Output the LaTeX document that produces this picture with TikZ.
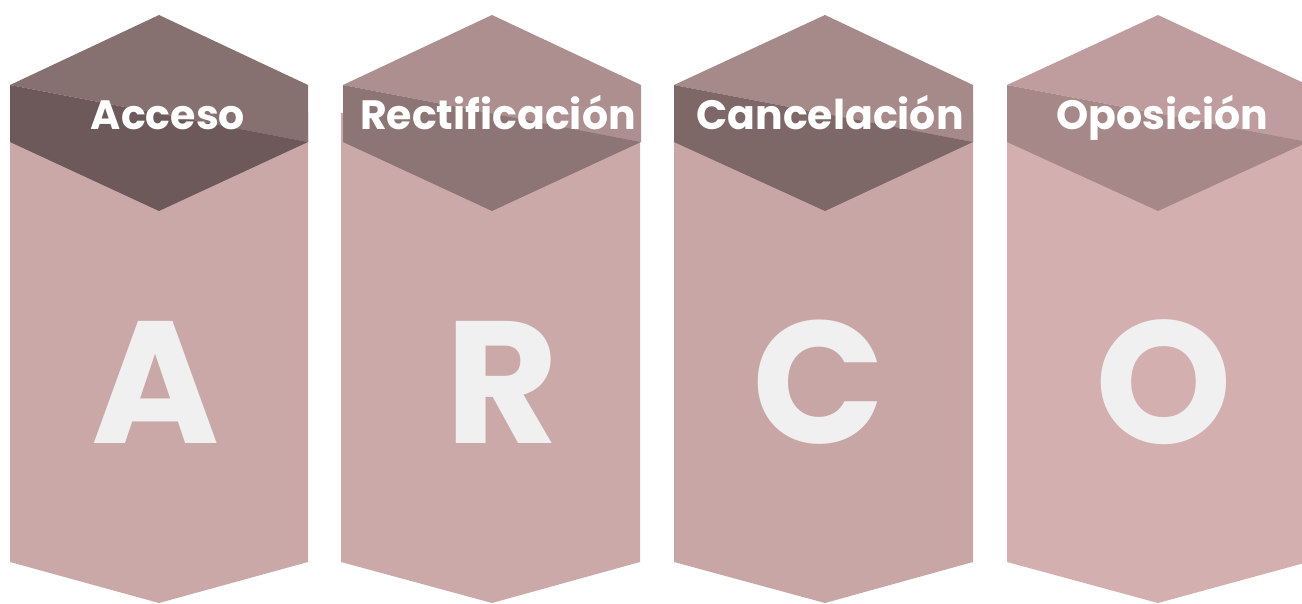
\documentclass[tikz,border=0pt]{standalone}
\usepackage{fontspec}
\newfontfamily\headfont{Poppins}

\definecolor{topA}{HTML}{877170}
\definecolor{lowA}{HTML}{6D5959}
\definecolor{bodyA}{HTML}{CBA8A8}
\definecolor{topR}{HTML}{AE8F8F}
\definecolor{lowR}{HTML}{8E7575}
\definecolor{bodyR}{HTML}{CCA9A9}
\definecolor{topC}{HTML}{A68989}
\definecolor{lowC}{HTML}{7D6767}
\definecolor{bodyC}{HTML}{C9A6A6}
\definecolor{topO}{HTML}{BF9D9E}
\definecolor{lowO}{HTML}{A68888}
\definecolor{bodyO}{HTML}{D3AFAF}
\definecolor{letter}{HTML}{F0F0F0}

\tikzset{
  title/.style={text=white, font=\headfont\bfseries\fontsize{41}{48}\selectfont, anchor=base, inner sep=0pt},
  bigletter/.style={text=letter, font=\headfont\bfseries\fontsize{174}{190}\selectfont, anchor=base, inner sep=0pt}
}

\begin{document}
\begin{tikzpicture}[x=1pt, y=-1pt]
\useasboundingbox (0,0) rectangle (1302,604);
\clip (0,0) rectangle (1302,604);

% A
\fill[bodyA] (10,113) -- (308,113) -- (308,562) -- (159,603) -- (10,562) -- cycle;
\fill[topA] (10,85) -- (159,15) -- (308,85) -- (308,142) -- cycle;
\fill[lowA] (10,85) -- (308,142) -- (159,211) -- (10,142) -- cycle;
\node[title] (acceso) at (168,130) {Acceso};
\node[bigletter] (la) at (156,443) {A};

% R
\fill[bodyR] (341,113) -- (640,113) -- (640,562) -- (492,603) -- (341,562) -- cycle;
\fill[topR] (343,85) -- (492,15) -- (641,85) -- (641,142) -- cycle;
\fill[lowR] (343,85) -- (641,142) -- (492,211) -- (343,142) -- cycle;
\node[title] (rectificacion) at (498,130) {Rectificación};
\node[bigletter] (lr) at (502,443) {R};

% C
\fill[bodyC] (674,113) -- (973,113) -- (973,562) -- (825,603) -- (674,562) -- cycle;
\fill[topC] (674,85) -- (825,15) -- (973,85) -- (973,142) -- cycle;
\fill[lowC] (674,85) -- (973,142) -- (825,211) -- (674,142) -- cycle;
\node[title] (cancelacion) at (830,130) {Cancelación};
\node[bigletter] (lc) at (819,443) {C};

% O
\fill[bodyO] (1007,113) -- (1308,113) -- (1308,562) -- (1158,603) -- (1007,562) -- cycle;
\fill[topO] (1007,85) -- (1158,15) -- (1308,85) -- (1308,142) -- cycle;
\fill[lowO] (1007,85) -- (1308,142) -- (1158,211) -- (1007,142) -- cycle;
\node[title] (oposicion) at (1162,130) {Oposición};
\node[bigletter] (lo) at (1164,443) {O};
\end{tikzpicture}
\end{document}
